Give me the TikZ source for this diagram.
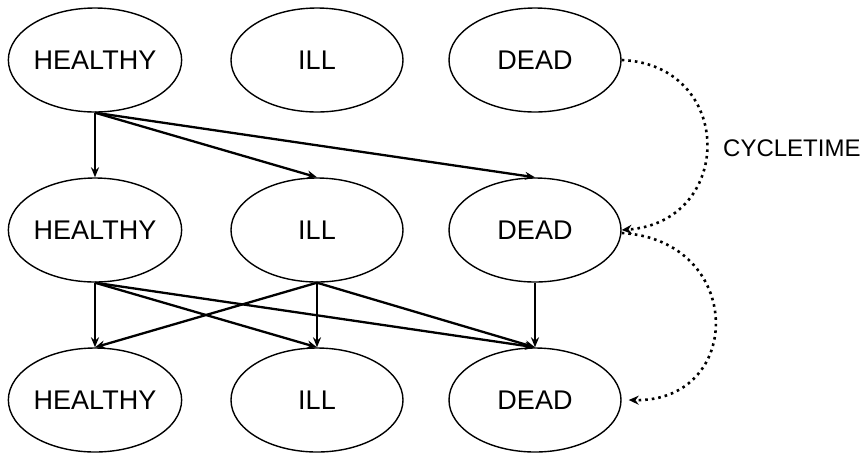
\documentclass[tikz,border=0pt]{standalone}
\usepackage{fontspec}
\setmainfont{Liberation Sans}
\usetikzlibrary{shapes.geometric,arrows.meta}
\begin{document}
\begin{tikzpicture}[x=1pt,y=-1pt,
  state/.style={draw,line width=1.4pt,ellipse,minimum width=172pt,minimum height=104pt,inner sep=0pt,font=\fontsize{27}{30}\selectfont},
  flow/.style={draw,line width=2.3pt,-{Stealth[length=10pt,width=8pt]}},
  cyc/.style={draw,line width=2.6pt,dash pattern=on 2.6pt off 4pt,-{Stealth[length=10pt,width=9pt]}}]
\useasboundingbox (0,0) rectangle (864,459);
\node[state] (h1) at (95,60) {HEALTHY};
\node[state] (i1) at (317,60) {ILL};
\node[state] (d1) at (535,60) {DEAD};
\node[state] (h2) at (95,230) {HEALTHY};
\node[state] (i2) at (317,230) {ILL};
\node[state] (d2) at (535,230) {DEAD};
\node[state] (h3) at (95,400) {HEALTHY};
\node[state] (i3) at (317,400) {ILL};
\node[state] (d3) at (535,400) {DEAD};
\node[font=\fontsize{24}{28}\selectfont,anchor=west,inner sep=0pt] (ct) at (723,148) {CYCLETIME};
\draw[flow] (h1.south) -- (h2.north);
\draw[flow] (h1.south) -- (i2.north);
\draw[flow] (h1.south) -- (d2.north);
\draw[flow] (h2.south) -- (h3.north);
\draw[flow] (h2.south) -- (i3.north);
\draw[flow] (h2.south) -- (d3.north);
\draw[flow] (i2.south) -- (h3.north);
\draw[flow] (i2.south) -- (i3.north);
\draw[flow] (i2.south) -- (d3.north);
\draw[flow] (d2.south) -- (d3.north);
\coordinate (e3) at ([xshift=7pt]d3.east);
\draw[cyc] (d1.east) .. controls (735,65) and (735,222) .. (d2.east);
\draw[cyc] ([yshift=-3pt]d2.east) .. controls (745,240) and (745,402) .. (e3);
\end{tikzpicture}
\end{document}
